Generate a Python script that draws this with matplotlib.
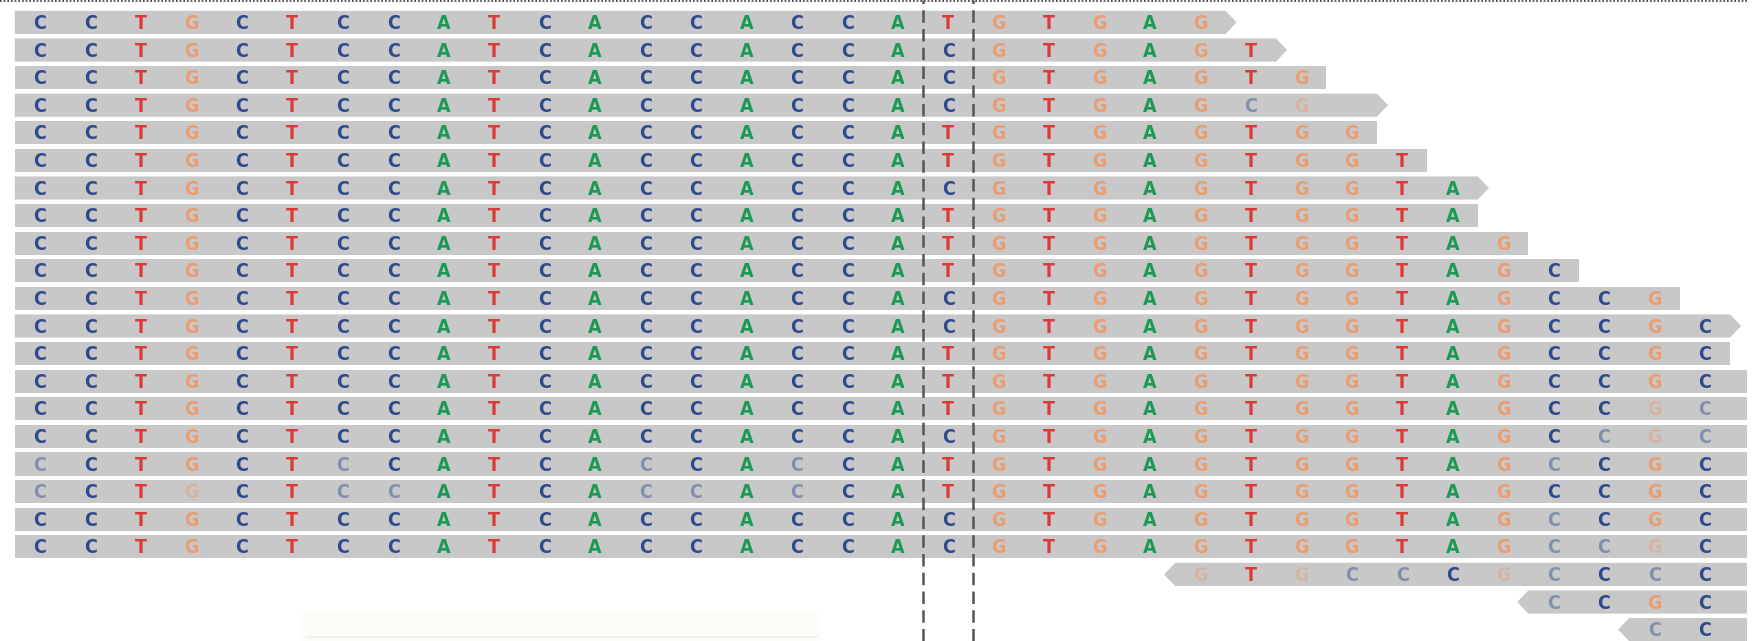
import matplotlib.pyplot as plt
from matplotlib.patches import Polygon, Rectangle

# pileup: one read per row; lowercase = faint (low quality) base, space = no base shown
left_part = "CCTGCTCCATCACCACCA"
read_start = [0] * 20 + [23, 30, 32]
read_seq = [
    left_part + "T" + "GTGAG",
    left_part + "C" + "GTGAGT",
    left_part + "C" + "GTGAGTG",
    left_part + "C" + "GTGAGcg ",
    left_part + "T" + "GTGAGTGG",
    left_part + "T" + "GTGAGTGGT",
    left_part + "C" + "GTGAGTGGTA",
    left_part + "T" + "GTGAGTGGTA",
    left_part + "T" + "GTGAGTGGTAG",
    left_part + "T" + "GTGAGTGGTAGC",
    left_part + "C" + "GTGAGTGGTAGCCG",
    left_part + "C" + "GTGAGTGGTAGCCGC",
    left_part + "T" + "GTGAGTGGTAGCCGC",
    left_part + "T" + "GTGAGTGGTAGCCGC ",
    left_part + "T" + "GTGAGTGGTAGCCgc ",
    left_part + "C" + "GTGAGTGGTAGCcgc ",
    "cCTGCTcCATCAcCAcCA" + "T" + "GTGAGTGGTAGcCGC ",
    "cCTgCTccATCAccAcCA" + "T" + "GTGAGTGGTAGCCGC ",
    left_part + "C" + "GTGAGTGGTAGcCGC ",
    left_part + "C" + "GTGAGTGGTAGccgC ",
    "gTgccCgcCcC ",
    "cCGC ",
    "cC ",
]
read_arrow = ["R", "R", "", "R", "", "", "R", "", "", "", "", "R", "",
              "", "", "", "", "", "", "", "L", "L", "L"]
split_cols = [17.5, 18.5]

base_color = {"A": "#1c9a55", "C": "#2c4a8c", "G": "#eb9d72", "T": "#dc3a36"}

fig = plt.figure(figsize=(17.54, 6.41), dpi=100)
ax = fig.add_axes([0, 0, 1747 / 1754, 1])
ax.set_xlim(-40 / 50.45, (1747 - 40) / 50.45)
ax.set_ylim((641 - 22.4) / 27.6, -22.4 / 27.6)
ax.axis("off")

h = 0.42   # half bar height
tip = 0.22  # arrow tip length
for row, (st, seq, arr) in enumerate(zip(read_start, read_seq, read_arrow)):
    x0 = st - 0.5
    x1 = st + len(seq) - 0.5
    if arr == "R":
        pts = [(x0, row - h), (x1, row - h), (x1 + tip, row), (x1, row + h), (x0, row + h)]
    elif arr == "L":
        pts = [(x0, row - h), (x1, row - h), (x1, row + h), (x0, row + h), (x0 - tip, row)]
    else:
        pts = [(x0, row - h), (x1, row - h), (x1, row + h), (x0, row + h)]
    ax.add_patch(Polygon(pts, closed=True, facecolor="#c8c8c8", edgecolor="none"))
    for k, b in enumerate(seq):
        if b == " ":
            continue
        faint = b.islower()
        ax.text(st + k, row + 0.04, b.upper(), ha="center", va="center",
                fontsize=14, fontweight="bold", family="DejaVu Sans",
                fontstretch="condensed",
                color=base_color[b.upper()],
                alpha=0.45 if faint else 1.0)

for xc in split_cols:
    ax.axvline(xc, color="#555555", lw=1.8, linestyle=(0, (5, 2.5)), zorder=3)

ax.axhline(-0.78, color="#333333", lw=1.2, linestyle=(0, (1, 1.2)))

# faint box near the bottom
ax.add_patch(Rectangle((5.2, 21.3), 10.3, 2.0, facecolor="#fcfdf6",
                       edgecolor="none", zorder=0))
ax.plot([5.3, 15.4], [22.25, 22.25], color="#eef0f4", lw=1.5, zorder=0)

fig.savefig("out.png", dpi=100, facecolor="white")
